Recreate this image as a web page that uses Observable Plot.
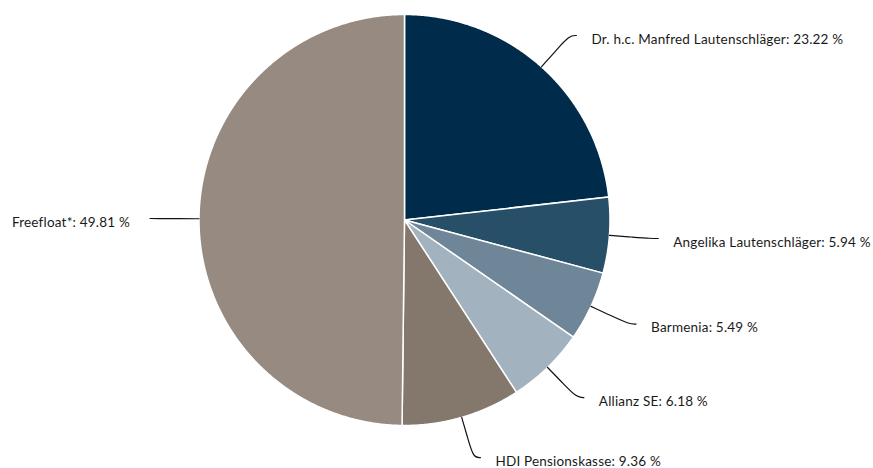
<!DOCTYPE html>
<html><head><meta charset="utf-8">
<script src="https://cdn.jsdelivr.net/npm/d3@7"></script>
<script src="https://cdn.jsdelivr.net/npm/@observablehq/plot@0.6"></script>
<style>body{margin:0;background:#fff} svg text{letter-spacing:0.2px}</style>
</head><body><div id="chart"></div>
<script>
const holders = ["Dr. h.c. Manfred Lautenschläger", "Angelika Lautenschläger", "Barmenia", "Allianz SE", "HDI Pensionskasse", "Freefloat*"];
const shares = [23.22, 5.94, 5.49, 6.18, 9.36, 49.81];
const colors = ["#002b4b", "#284f68", "#6f8598", "#a2b3bf", "#84786c", "#978b81"];

const total = d3.sum(shares);
let acc = 0;
const slices = holders.map((name, i) => {
  const a0 = acc / total * 2 * Math.PI;
  acc += shares[i];
  const a1 = acc / total * 2 * Math.PI;
  return {name, value: shares[i], a0, a1, mid: (a0 + a1) / 2};
});

// slice outlines on the unit circle (angle measured clockwise from the top)
const poly = slices.flatMap(s => {
  const pts = [{name: s.name, x: 0, y: 0}];
  const n = Math.max(2, Math.ceil((s.a1 - s.a0) / 0.004));
  for (let k = 0; k <= n; k++) {
    const a = s.a0 + (s.a1 - s.a0) * k / n;
    pts.push({name: s.name, x: Math.sin(a), y: -Math.cos(a)});
  }
  pts.push({name: s.name, x: 0, y: 0});
  return pts;
});

const R = 205.5;
const ext = 42 / R, hor = 7 / R;
const leaders = [];
const labels = [];
slices.forEach(s => {
  const ux = Math.sin(s.mid), uy = -Math.cos(s.mid);
  const side = ux >= 0 ? 1 : -1;
  const ex = ux * (1 + ext), ey = uy * (1 + ext);
  leaders.push({name: s.name, x: ux, y: uy});
  leaders.push({name: s.name, x: ux * (1 + ext * 0.55), y: uy * (1 + ext * 0.55)});
  leaders.push({name: s.name, x: ex, y: ey});
  leaders.push({name: s.name, x: ex + side * hor, y: ey});
  labels.push({x: ex + side * hor, y: ey, side, text: `${s.name}: ${s.value.toFixed(2)} %`});
});

const chart = Plot.plot({
  width: 873,
  height: 468,
  margin: 0,
  x: {domain: [-1, 1], range: [404 - R, 404 + R], axis: null},
  y: {domain: [-1, 1], range: [219.5 - R, 219.5 + R], axis: null},
  color: {domain: holders, range: colors},
  style: {fontFamily: "Lato, sans-serif", fontSize: "13.5px", background: "#fff"},
  marks: [
    Plot.line(poly, {x: "x", y: "y", z: "name", fill: "name", stroke: "#fff", strokeWidth: 1.5, strokeLinejoin: "round", curve: "linear"}),
    Plot.line(leaders, {x: "x", y: "y", z: "name", stroke: "#111", strokeWidth: 1.2, curve: "basis"}),
    Plot.text(labels.filter(d => d.side > 0), {x: "x", y: "y", text: "text", textAnchor: "start", dx: 15, dy: 4, fill: "#1a1a1a", fontSize: 13.5}),
    Plot.text(labels.filter(d => d.side < 0), {x: "x", y: "y", text: "text", textAnchor: "end", dx: -20, dy: 4, fill: "#1a1a1a", fontSize: 13.5})
  ]
});
document.getElementById("chart").appendChild(chart);
</script>
</body></html>
